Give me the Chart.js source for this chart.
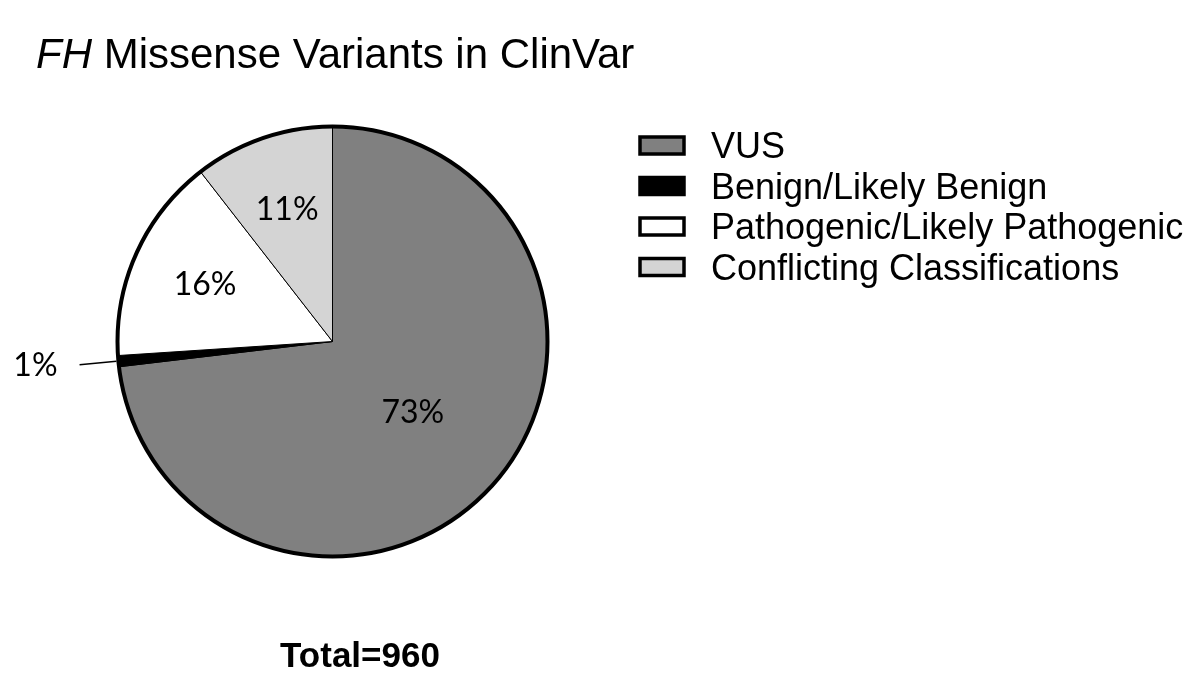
<!DOCTYPE html>
<html>
<head>
<meta charset="utf-8">
<script src="https://cdn.jsdelivr.net/npm/chart.js@4.4.0/dist/chart.umd.min.js"></script>
<style>
  html, body { margin: 0; padding: 0; background: #fff; }
  #wrap { position: relative; width: 1200px; height: 691px; overflow: hidden; }
  #pie { position: absolute; left: 0; top: 0; }
  #title {
    position: absolute; left: 36px; top: 33px; white-space: nowrap; color: #000;
    font: 42px "Liberation Sans", Arial, sans-serif; line-height: 42px;
  }
  #total {
    position: absolute; left: 260px; width: 200px; top: 637px; text-align: center; color: #000;
    font: bold 35px "Liberation Sans", Arial, sans-serif; line-height: 35px;
  }
</style>
</head>
<body>
<div id="wrap">
  <canvas id="pie" width="1200" height="691"></canvas>
  <div id="title"><i>FH</i> Missense Variants in ClinVar</div>
  <div id="total"></div>
</div>
<script>
const categories = ['VUS', 'Benign/Likely Benign', 'Pathogenic/Likely Pathogenic', 'Conflicting Classifications'];
const counts = [702, 8, 149, 101];
const sliceColors = ['#808080', '#000000', '#ffffff', '#d4d4d4'];

const total = counts.reduce((a, b) => a + b, 0);
document.getElementById('total').textContent = `Total=${total}`;

// percentage labels + thick outer rim
const pieLabels = {
  id: 'pieLabels',
  afterDatasetsDraw(chart) {
    const ctx = chart.ctx;
    const arcs = chart.getDatasetMeta(0).data;
    const { x, y, outerRadius: R } = arcs[0].getProps(['x', 'y', 'outerRadius'], true);
    ctx.save();
    ctx.beginPath();
    ctx.arc(x, y, R, 0, Math.PI * 2);
    ctx.lineWidth = 4;
    ctx.strokeStyle = '#000';
    ctx.stroke();

    ctx.font = '32px Lato, "Open Sans", sans-serif';
    ctx.fillStyle = '#000';
    ctx.textBaseline = 'middle';
    arcs.forEach((arc, i) => {
      const { startAngle, endAngle } = arc.getProps(['startAngle', 'endAngle'], true);
      const pct = counts[i] / total * 100;
      const label = Math.round(pct) + '%';
      const mid = (startAngle + endAngle) / 2;
      const c = Math.cos(mid), s = Math.sin(mid);
      if (pct < 3) {
        const r1 = R + 2, r2 = R + 39;
        ctx.beginPath();
        ctx.moveTo(x + c * r1, y + s * r1);
        ctx.lineTo(x + c * r2, y + s * r2);
        ctx.lineWidth = 1.5;
        ctx.stroke();
        ctx.textAlign = 'right';
        ctx.fillText(label, x + c * r2 - 22, y + s * r2 + 1);
      } else {
        const f = pct > 50 ? 0.5 : 0.65;
        ctx.textAlign = 'center';
        ctx.fillText(label, x + c * f * R, y + s * f * R);
      }
    });
    ctx.restore();
  }
};

// legend on the right
const sideLegend = {
  id: 'sideLegend',
  afterDraw(chart) {
    const ctx = chart.ctx;
    const names = chart.data.labels;
    const colors = chart.data.datasets[0].backgroundColor;
    ctx.save();
    ctx.font = '36px "Liberation Sans", Arial, sans-serif';
    ctx.textBaseline = 'alphabetic';
    ctx.textAlign = 'left';
    names.forEach((name, i) => {
      const base = 158 + i * 40.5;
      ctx.fillStyle = colors[i];
      ctx.fillRect(640, base - 21, 44, 17);
      ctx.lineWidth = 3.5;
      ctx.strokeStyle = '#000';
      ctx.strokeRect(640, base - 21, 44, 17);
      ctx.fillStyle = '#000';
      ctx.fillText(name, 711, base);
    });
    ctx.restore();
  }
};

new Chart(document.getElementById('pie'), {
  type: 'pie',
  data: {
    labels: categories,
    datasets: [{
      data: counts,
      backgroundColor: sliceColors,
      borderColor: '#000',
      borderWidth: 1,
      hoverOffset: 0
    }]
  },
  options: {
    responsive: false,
    animation: false,
    devicePixelRatio: 1,
    layout: { padding: { left: 117, top: 126, right: 652, bottom: 134 } },
    plugins: {
      legend: { display: false },
      title: { display: false },
      tooltip: { enabled: false }
    }
  },
  plugins: [pieLabels, sideLegend]
});
</script>
</body>
</html>
